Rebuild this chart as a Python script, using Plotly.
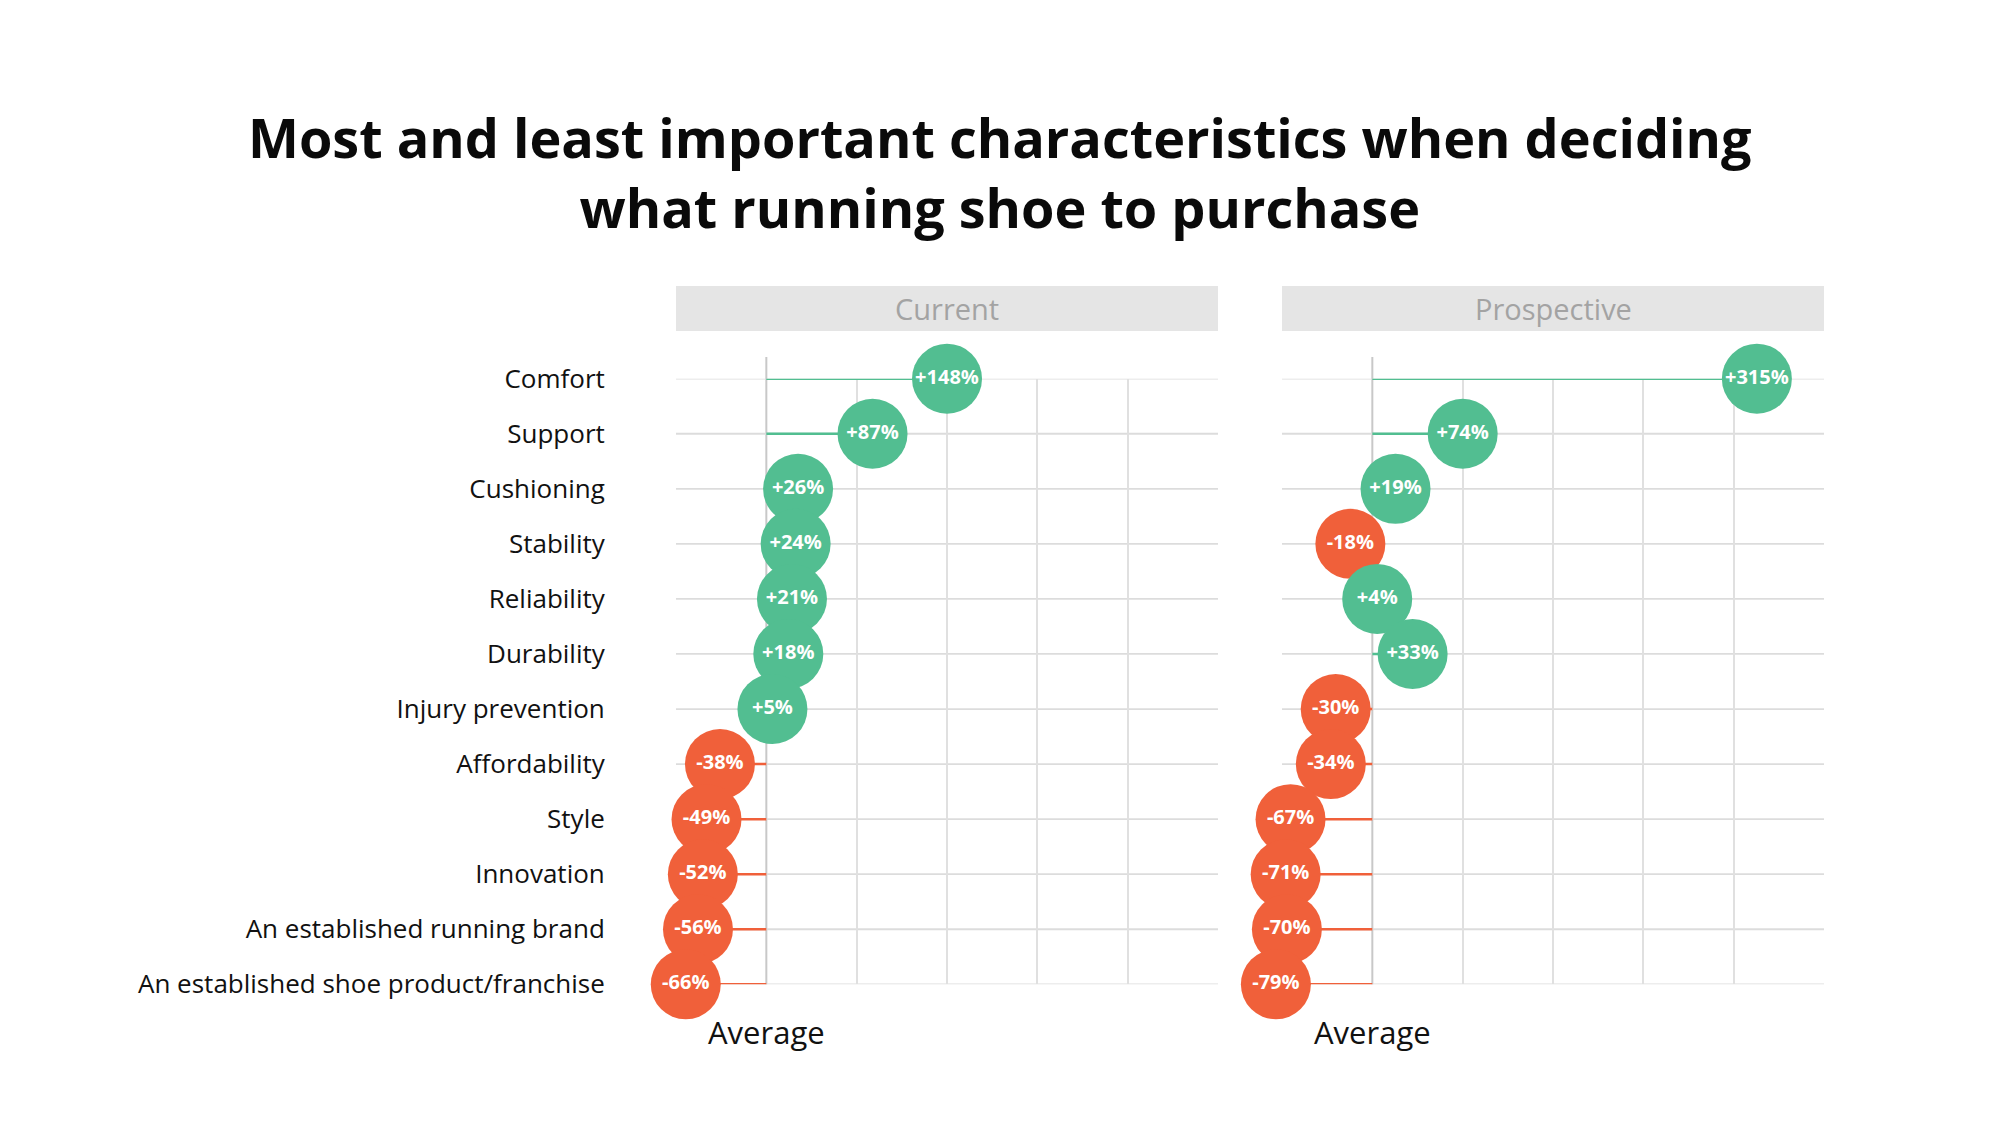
import plotly.graph_objects as go

categories = ["Comfort", "Support", "Cushioning", "Stability", "Reliability", "Durability",
              "Injury prevention", "Affordability", "Style", "Innovation",
              "An established running brand", "An established shoe product/franchise"]
current = [148, 87, 26, 24, 21, 18, 5, -38, -49, -52, -56, -66]
prospective = [315, 74, 19, -18, 4, 33, -30, -34, -67, -71, -70, -79]
panels = ["Current", "Prospective"]
title_lines = ["Most and least important characteristics when deciding",
               "what running shoe to purchase"]

GREEN = "#52BE91"
RED = "#F0603A"
GRID = "#e0e0e0"
FONT = "Open Sans"

# visible panel spans x = -74 .. 370; axis range reaches a bit further left
PANEL_LO, PANEL_HI = -74, 370
AX_LO = -82
px_per_unit = 542 / (PANEL_HI - PANEL_LO)
left_pad = (PANEL_LO - AX_LO) * px_per_unit

fig = go.Figure()

x_domains = [[(676 - left_pad) / 2000, 1218 / 2000], [(1282 - left_pad) / 2000, 1824 / 2000]]
y_domain = [1 - 984.3 / 1125, 1 - 378.7 / 1125]

for i, (name, vals) in enumerate(zip(panels, [current, prospective])):
    xa = "x" if i == 0 else "x2"
    ya = "y" if i == 0 else "y2"
    for color, cond in [(GREEN, lambda v: v >= 0), (RED, lambda v: v < 0)]:
        xs, ys = [], []
        for c, v in zip(categories, vals):
            if cond(v):
                xs += [0, v, None]
                ys += [c, c, None]
        fig.add_trace(go.Scatter(x=xs, y=ys, mode="lines", xaxis=xa, yaxis=ya,
                                 line=dict(color=color, width=2.5),
                                 hoverinfo="skip", showlegend=False, cliponaxis=False))
    fig.add_trace(go.Scatter(
        x=vals, y=categories, mode="markers+text", xaxis=xa, yaxis=ya,
        marker=dict(size=70, color=[GREEN if v >= 0 else RED for v in vals],
                    line=dict(width=0), opacity=1),
        text=[f"{v:+d}%" for v in vals], textposition="middle center",
        textfont=dict(family=FONT, size=20, color="white", weight=700),
        showlegend=False, cliponaxis=False))

axis_common = dict(range=[AX_LO, PANEL_HI], tickvals=[74, 148, 222, 296], showticklabels=False,
                   showgrid=True, gridcolor=GRID, gridwidth=1.5, zeroline=False,
                   showline=False, ticks="", fixedrange=True)
fig.update_layout(
    xaxis=dict(domain=x_domains[0], anchor="y", **axis_common),
    xaxis2=dict(domain=x_domains[1], anchor="y2", **axis_common),
    yaxis=dict(domain=y_domain, anchor="x", type="category", categoryorder="array",
               categoryarray=categories, range=[11, 0], showgrid=False,
               zeroline=False, showline=False, ticks="outside",
               ticklen=65 - left_pad, tickcolor="rgba(0,0,0,0)", automargin=False,
               tickfont=dict(family=FONT, size=26, color="#111111", weight=500)),
    yaxis2=dict(domain=y_domain, anchor="x2", type="category", categoryorder="array",
                categoryarray=categories, range=[11, 0], showgrid=False,
                zeroline=False, showline=False, showticklabels=False,
                automargin=False),
)

shapes = []
annotations = []
for i, name in enumerate(panels):
    xd = "x" if i == 0 else "x2"
    yy = "y" if i == 0 else "y2"
    yd = "y domain" if i == 0 else "y2 domain"
    # horizontal gridlines across the visible panel
    for c in categories:
        shapes.append(dict(type="line", xref=xd, yref=yy, x0=PANEL_LO, x1=PANEL_HI,
                           y0=c, y1=c, line=dict(color="#dcdcdc", width=1.8), layer="below"))
    # facet header
    shapes.append(dict(type="rect", xref=xd, yref="paper", x0=PANEL_LO, x1=PANEL_HI,
                       y0=1 - 331 / 1125, y1=1 - 286 / 1125,
                       fillcolor="#e5e5e5", line=dict(width=0), layer="below"))
    annotations.append(dict(text=name, xref=xd, yref="paper",
                            x=(PANEL_LO + PANEL_HI) / 2, y=1 - 308.5 / 1125,
                            showarrow=False, xanchor="center", yanchor="middle",
                            font=dict(family=FONT, size=29, color="#a3a3a3", weight=500)))
    # average (zero) line
    shapes.append(dict(type="line", xref=xd, yref=yd, x0=0, x1=0, y0=0, y1=1.036,
                       line=dict(color="#c8c8c8", width=2), layer="below"))
    annotations.append(dict(text="Average", xref=xd, yref="paper", x=0, y=1 - 1032 / 1125,
                            showarrow=False, xanchor="center", yanchor="middle",
                            font=dict(family=FONT, size=31, color="#111111")))

annotations.append(dict(text="<br>".join(title_lines), xref="paper", yref="paper",
                        x=0.5, y=1 - 172 / 1125, showarrow=False,
                        xanchor="center", yanchor="middle", align="center",
                        font=dict(family=FONT, size=54, color="#0a0a0a", weight=700)))

fig.update_layout(shapes=shapes, annotations=annotations,
                  width=2000, height=1125, margin=dict(l=0, r=0, t=0, b=0),
                  paper_bgcolor="white", plot_bgcolor="white", showlegend=False)

fig.write_html("out.html")
